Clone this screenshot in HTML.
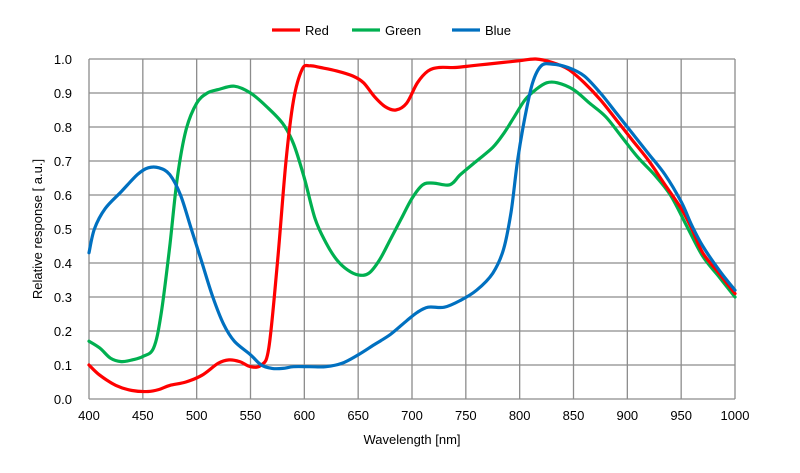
<!DOCTYPE html>
<html><head><meta charset="utf-8"><style>
body{margin:0;background:#fff}
svg{display:block;font-family:"Liberation Sans",Arial,sans-serif}
</style></head><body>
<svg id="s" width="800" height="473" viewBox="0 0 800 473" xmlns="http://www.w3.org/2000/svg">
<g id="grid" stroke="#8c8c8c" stroke-width="1.3" fill="none"></g>
<g id="lab" font-size="13" fill="#000"></g>
<g id="curves" fill="none" stroke-width="3.2" stroke-linejoin="round" stroke-linecap="round"></g>
<g font-size="13">
<line x1="272" y1="30" x2="300" y2="30" stroke="#ff0000" stroke-width="3.2"/><text x="305" y="35">Red</text>
<line x1="352" y1="30" x2="380" y2="30" stroke="#00b050" stroke-width="3.2"/><text x="385" y="35">Green</text>
<line x1="452" y1="30" x2="480" y2="30" stroke="#0070c0" stroke-width="3.2"/><text x="485" y="35">Blue</text>
<text x="412" y="444" text-anchor="middle">Wavelength [nm]</text>
<text transform="translate(42,229) rotate(-90)" text-anchor="middle">Relative response [ a.u.]</text>
</g>
</svg>
<script>
var L=89,R=735,T=59,B=399,NS="http://www.w3.org/2000/svg";
function X(w){return L+(w-400)*(R-L)/600}
function Y(v){return B-v*(B-T)}
var g=document.getElementById('grid'),lab=document.getElementById('lab'),c=document.getElementById('curves');
function el(p,tag,a,t){var e=document.createElementNS(NS,tag);for(var k in a)e.setAttribute(k,a[k]);if(t)e.textContent=t;p.appendChild(e);}
for(var i=0;i<=12;i++){var x=X(400+i*50);el(g,'line',{x1:x,y1:T,x2:x,y2:B});el(lab,'text',{x:x,y:420,'text-anchor':'middle'},String(400+i*50));}
for(var j=0;j<=10;j++){var y=Y(j/10);el(g,'line',{x1:L,y1:y,x2:R,y2:y});el(lab,'text',{x:72,y:y+5,'text-anchor':'end'},(j/10).toFixed(1));}
var red=[400,.1,410,.07,425,.04,440,.025,455,.022,465,.028,475,.04,490,.05,505,.07,520,.105,530,.115,540,.11,550,.095,560,.1,567,.15,575,.4,583,.7,590,.88,598,.97,605,.98,615,.975,630,.965,645,.95,655,.93,665,.89,675,.86,685,.85,695,.87,705,.93,715,.965,725,.975,740,.975,755,.98,770,.985,785,.99,800,.995,815,1.0,830,.99,845,.97,860,.93,875,.88,890,.82,905,.76,920,.7,935,.63,950,.56,960,.5,970,.43,985,.37,1000,.31];
var green=[400,.17,410,.15,420,.12,430,.11,440,.115,450,.125,460,.15,467,.25,475,.45,482,.65,490,.79,500,.87,510,.9,520,.91,535,.92,550,.9,565,.86,580,.81,590,.75,600,.65,610,.53,620,.46,630,.41,640,.38,650,.365,660,.37,670,.41,680,.47,690,.53,700,.59,710,.63,720,.635,735,.63,745,.66,760,.7,775,.74,785,.78,795,.83,805,.88,815,.91,825,.93,835,.93,850,.91,865,.87,880,.83,895,.77,910,.71,925,.66,940,.6,955,.51,970,.42,985,.36,1000,.3];
var blue=[400,.43,405,.5,415,.56,430,.61,445,.66,455,.68,465,.68,475,.66,485,.6,495,.5,505,.4,515,.3,525,.22,535,.17,550,.13,560,.1,570,.09,580,.09,590,.095,605,.095,620,.095,635,.105,650,.13,665,.16,680,.19,695,.23,705,.255,715,.27,730,.27,745,.29,760,.32,775,.37,785,.44,792,.55,798,.7,805,.83,812,.93,820,.98,830,.985,845,.975,860,.95,875,.9,890,.84,905,.78,920,.72,935,.66,950,.58,960,.51,970,.45,985,.38,1000,.32];
function path(d){var p=[];for(var i=0;i<d.length;i+=2)p.push([X(d[i]),Y(d[i+1])]);
var s="M"+p[0][0].toFixed(1)+","+p[0][1].toFixed(1);
for(var i=0;i<p.length-1;i++){var p0=p[Math.max(i-1,0)],p1=p[i],p2=p[i+1],p3=p[Math.min(i+2,p.length-1)];
s+=" C"+(p1[0]+(p2[0]-p0[0])/6).toFixed(1)+","+(p1[1]+(p2[1]-p0[1])/6).toFixed(1)+" "+(p2[0]-(p3[0]-p1[0])/6).toFixed(1)+","+(p2[1]-(p3[1]-p1[1])/6).toFixed(1)+" "+p2[0].toFixed(1)+","+p2[1].toFixed(1);}
return s;}
el(c,'path',{d:path(green),stroke:'#00b050'});
el(c,'path',{d:path(red),stroke:'#ff0000'});
el(c,'path',{d:path(blue),stroke:'#0070c0'});
</script>
</body></html>
